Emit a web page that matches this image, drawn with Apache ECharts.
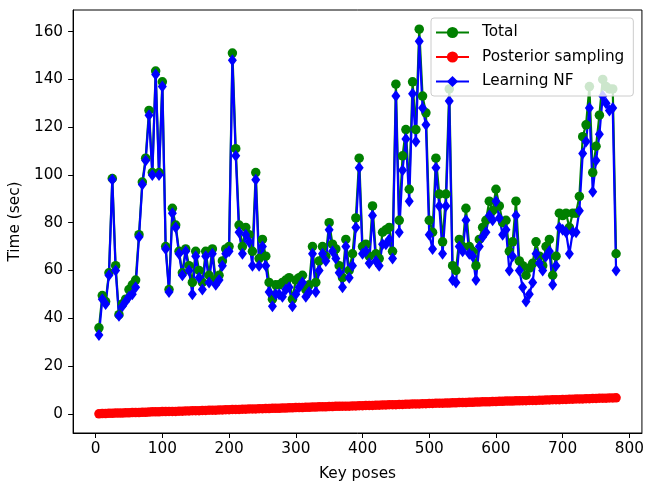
<!DOCTYPE html>
<html>
<head>
<meta charset="utf-8">
<script src="https://cdn.jsdelivr.net/npm/echarts@6/dist/echarts.min.js"></script>
<style>html,body{margin:0;padding:0;background:#fff}#c{width:647px;height:487px}</style>
</head>
<body>
<div id="c"></div>
<script>
const keyPoses = [5,10,15,20,25,30,35,40,45,50,55,60,65,70,75,80,85,90,95,100,105,110,115,120,125,130,
135,140,145,150,155,160,165,170,175,180,185,190,195,200,205,210,215,220,225,230,235,240,245,250,255,260,265,270,
275,280,285,290,295,300,305,310,315,320,325,330,335,340,345,350,355,360,365,370,375,380,385,390,395,400,405,410,
415,420,425,430,435,440,445,450,455,460,465,470,475,480,485,490,495,500,505,510,515,520,525,530,535,540,545,550,
555,560,565,570,575,580,585,590,595,600,605,610,615,620,625,630,635,640,645,650,655,660,665,670,675,680,685,690,
695,700,705,710,715,720,725,730,735,740,745,750,755,760,765,770,775,780];

const totalTime = [36,49.5,47,59,98.5,62,41.5,46,48,52,54,56,75,97,107,127,101,143.5,101,139,70,52,86,79,68,59,
69,62,55,68,60,55,68,58,69,56,58,64,69,70,151,111,79,70,78,75,68,101,65,73,66,55,48,54,
54,55,56,57,48,56,57,58,52,54,70,55,64,70,66,80,71,69,62,57,73,60,67,82,107,70,71,66,
87,67,65,76,77,78,68,138,81,108,119,94,139,119,161,133,126,81,76,107,92,72,92,136,62,60,73,70,
86,70,68,62,73,78,81,89,85,94,87,80,81,68,72,89,64,62,58,61,63,72,66,62,70,73,58,66,
84,83,84,78,84,84,91,116,121,137,101,112,125,140,137,136,136,67];

const posteriorTime = [0.0,0.1,0.1,0.2,0.2,0.3,0.3,0.3,0.4,0.4,0.5,0.5,0.5,0.6,0.6,0.7,0.8,0.8,0.8,0.9,0.9,1.0,1.0,1.0,1.1,1.1,
1.2,1.2,1.3,1.3,1.3,1.4,1.4,1.5,1.5,1.5,1.6,1.6,1.7,1.7,1.8,1.8,1.8,1.9,1.9,2.0,2.0,2.0,2.1,2.1,2.2,2.2,2.3,2.3,
2.3,2.4,2.4,2.5,2.5,2.6,2.6,2.6,2.7,2.7,2.8,2.8,2.9,2.9,2.9,3.0,3.0,3.1,3.1,3.2,3.2,3.2,3.3,3.3,3.4,3.4,3.5,3.5,
3.5,3.6,3.6,3.7,3.7,3.8,3.8,3.8,3.9,3.9,4.0,4.0,4.1,4.1,4.1,4.2,4.2,4.3,4.3,4.4,4.4,4.4,4.5,4.5,4.6,4.6,4.7,4.7,
4.7,4.8,4.8,4.9,4.9,5.0,5.0,5.0,5.1,5.1,5.2,5.2,5.3,5.3,5.3,5.4,5.4,5.5,5.5,5.6,5.6,5.6,5.7,5.7,5.8,5.8,5.9,5.9,
5.9,6.0,6.0,6.1,6.1,6.2,6.2,6.2,6.3,6.3,6.4,6.4,6.5,6.5,6.5,6.6,6.6,6.7];

const nfTime = [33,48,46,58,98,60,41,45,47,49,50,53,74,96,106,125,100,142,100,137,69,51,84,78,67,58,
68,60,50,66,57,52,66,55,67,54,56,62,67,68,148,108,76,67,75,72,62,98,62,70,62,51,45,50,
50,49,52,53,45,50,53,55,49,51,67,51,60,67,64,77,68,65,59,53,70,57,62,78,103,67,68,63,
83,64,62,71,71,73,65,133,76,102,115,89,134,114,156,128,121,75,69,103,87,67,87,131,56,55,70,68,
81,67,66,56,70,74,76,83,81,89,82,75,77,60,66,83,60,53,47,50,55,67,63,60,66,68,54,62,
78,77,76,67,76,76,85,109,114,128,93,106,117,133,130,127,128,60];

const xTicks = [0,100,200,300,400,500,600,700,800];
const yTicks = [0,20,40,60,80,100,120,140,160];

const pairs = arr => keyPoses.map((k, i) => [k, arr[i]]);
const font = 'DejaVu Sans';
const fs = 15.3;

const chart = echarts.init(document.getElementById('c'), null, {renderer: 'canvas'});
chart.setOption({
  animation: false,
  backgroundColor: '#fff',
  grid: {left: 72, right: 2, top: 10, bottom: 50, show: true, borderColor: '#000', borderWidth: 1, backgroundColor: 'transparent'},
  xAxis: {
    type: 'value', min: -33.75, max: 818.75,
    name: 'Key poses', nameLocation: 'middle', nameGap: 34,
    nameTextStyle: {fontFamily: font, fontSize: fs, color: '#000'},
    axisLine: {show: true, onZero: false, lineStyle: {color: '#000', width: 1}},
    axisTick: {show: true, customValues: xTicks, length: 5, lineStyle: {color: '#000'}},
    axisLabel: {customValues: xTicks, fontFamily: font, fontSize: fs, color: '#000', margin: 9},
    splitLine: {show: false}
  },
  yAxis: {
    type: 'value', min: -8.05, max: 169.05,
    name: 'Time (sec)', nameLocation: 'middle', nameGap: 48,
    nameTextStyle: {fontFamily: font, fontSize: fs, color: '#000'},
    axisLine: {show: true, onZero: false, lineStyle: {color: '#000', width: 1}},
    axisTick: {show: true, customValues: yTicks, length: 5, lineStyle: {color: '#000'}},
    axisLabel: {customValues: yTicks, fontFamily: font, fontSize: fs, color: '#000', margin: 10},
    splitLine: {show: false}
  },
  legend: {
    orient: 'vertical', left: 431, top: 18,
    padding: [7, 9, 7, 4], itemGap: 9.5, itemWidth: 33, itemHeight: 14,
    backgroundColor: 'rgba(255,255,255,0.8)', borderColor: '#ccc', borderWidth: 1, borderRadius: 3,
    textStyle: {fontFamily: font, fontSize: fs, color: '#000', padding: [0, 0, 0, 8]},
    data: ['Total', 'Posterior sampling', 'Learning NF']
  },
  series: [
    {name: 'Total', type: 'line', data: pairs(totalTime), symbol: 'circle', symbolSize: 9.5,
     color: '#008000', lineStyle: {width: 2.2, color: '#008000'}, itemStyle: {color: '#008000'}},
    {name: 'Posterior sampling', type: 'line', data: pairs(posteriorTime), symbol: 'circle', symbolSize: 9.5,
     color: '#ff0000', lineStyle: {width: 2.2, color: '#ff0000'}, itemStyle: {color: '#ff0000'}},
    {name: 'Learning NF', type: 'line', data: pairs(nfTime), symbol: 'diamond', symbolSize: [9, 12],
     color: '#0000ff', lineStyle: {width: 2.2, color: '#0000ff'}, itemStyle: {color: '#0000ff'}}
  ]
});
</script>
</body>
</html>
